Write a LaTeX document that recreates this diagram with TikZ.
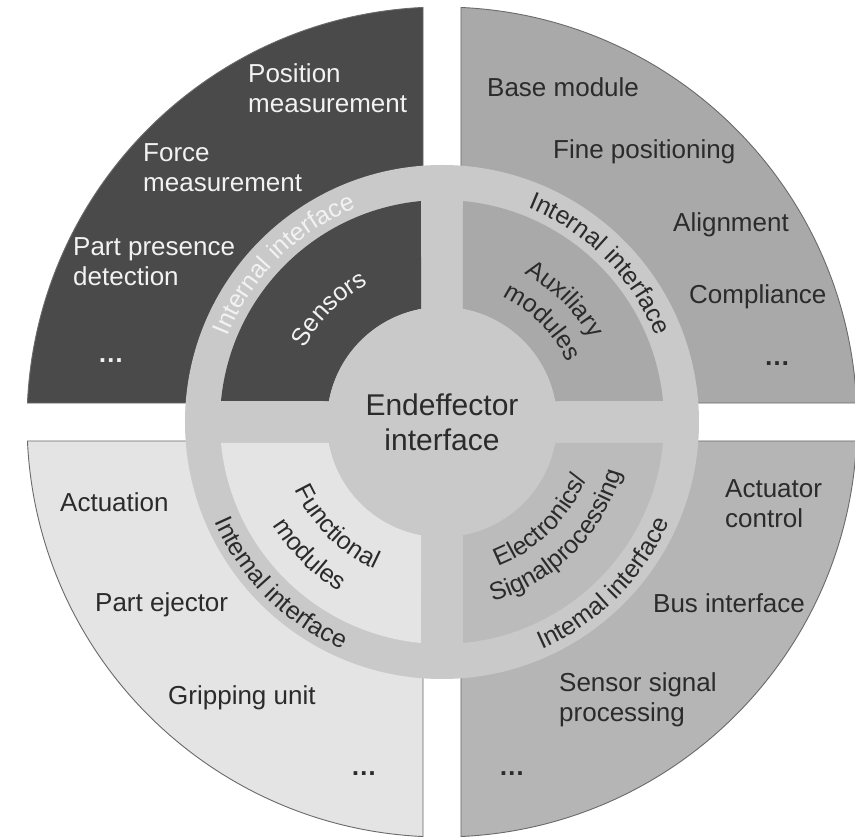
\documentclass[tikz,border=0pt]{standalone}
\usepackage{fontspec}
\setmainfont{Liberation Sans}
\usetikzlibrary{decorations.text}
\definecolor{qdark}{HTML}{4A4A4A}
\definecolor{qmid}{HTML}{A9A9A9}
\definecolor{qlight}{HTML}{E4E4E4}
\definecolor{qbr}{HTML}{B5B5B5}
\definecolor{qelec}{HTML}{BBBBBB}
\definecolor{ringgray}{HTML}{C9C9C9}
\definecolor{edgegray}{HTML}{6A6A6A}
\definecolor{txtdark}{HTML}{2B2B2B}
\definecolor{txtwhite}{HTML}{F2F2F2}
\newcommand\lblfont{\fontsize{26}{30}\selectfont}
\newcommand\arcfont{\fontsize{25}{30}\selectfont}
\newcommand\curvlabel[5]{\path[decorate,decoration={text along path,text align=center,text color=#4,text={|\arcfont|#5}}] (#2:#1) arc[start angle=#2,end angle=#3,radius=#1];}
\begin{document}
\begin{tikzpicture}[x=1pt,y=1pt,
  outerq/.style={draw=edgegray, line width=0.9pt, line join=miter},
  lbl/.style={anchor=base west, inner sep=0pt, align=left, font=\lblfont},
  wlbl/.style={lbl, text=txtwhite},
  dlbl/.style={lbl, text=txtdark},
  dotlbl/.style={anchor=base, inner sep=0pt, font=\lblfont\bfseries},
]
\useasboundingbox (-442,-415) rectangle (413,422);
\fill[white] (-442,-415) rectangle (413,422);
% outer quadrants
\path[outerq, fill=qdark] (-19,19) -- (92.62:415) arc[start angle=92.62,end angle=177.38,radius=415] -- cycle;
\path[outerq, fill=qmid] (19,19) -- (2.62:415) arc[start angle=2.62,end angle=87.38,radius=415] -- cycle;
\path[outerq, fill=qlight] (-19,-19) -- (182.62:415) arc[start angle=182.62,end angle=267.38,radius=415] -- cycle;
\path[outerq, fill=qbr] (19,-19) -- (272.62:415) arc[start angle=272.62,end angle=357.38,radius=415] -- cycle;
% ring (internal interface)
\fill[ringgray] (0,0) circle[radius=257];
% inner quadrants
\fill[qdark] (95.43:222) arc[start angle=95.43,end angle=174.57,radius=222] -- (169.48:115) arc[start angle=169.48,end angle=100.52,radius=115] -- cycle;
\fill[qmid] (5.43:222) arc[start angle=5.43,end angle=84.57,radius=222] -- (79.48:115) arc[start angle=79.48,end angle=10.52,radius=115] -- cycle;
\fill[qlight] (185.43:222) arc[start angle=185.43,end angle=264.57,radius=222] -- (259.48:115) arc[start angle=259.48,end angle=190.52,radius=115] -- cycle;
\fill[qelec] (275.43:222) arc[start angle=275.43,end angle=354.57,radius=222] -- (349.48:115) arc[start angle=349.48,end angle=280.52,radius=115] -- cycle;
% centre
\node[circle, fill=ringgray, minimum size=230pt, inner sep=0pt, align=center, font=\fontsize{30}{35}\selectfont, text=txtdark] (eif) at (0,0) {Endeffector\\interface};
% curved labels
\curvlabel{230.5}{180}{90}{txtwhite}{Internal interface}
\curvlabel{230.5}{90}{0}{txtdark}{Internal interface}
\curvlabel{248.5}{180}{270}{txtdark}{Intemal interface}
\curvlabel{248.5}{270}{360}{txtdark}{Intemal interface}
\curvlabel{156}{180}{90}{txtwhite}{Sensors}
\curvlabel{170}{90}{0}{txtdark}{Auxiliary}
\curvlabel{139}{90}{0}{txtdark}{modules}
\curvlabel{162}{180}{270}{txtdark}{Functional}
\curvlabel{198}{180}{270}{txtdark}{modules}
\curvlabel{155}{270}{360}{txtdark}{Electronics/}
\curvlabel{186.5}{270}{360}{txtdark}{Signalprocessing}
% sensors quadrant (base = last line)
\node[wlbl] (posm) at (-194,309) {Position\\measurement};
\node[wlbl] (forcem) at (-299,230) {Force\\measurement};
\node[wlbl] (ppd) at (-369,136) {Part presence\\detection};
\node[dotlbl, text=txtwhite] (tldots) at (-331,59) {…};
% auxiliary quadrant
\node[dlbl] (basem) at (45,325) {Base module};
\node[dlbl] (finep) at (111,263) {Fine positioning};
\node[dlbl] (alignm) at (231,190) {Alignment};
\node[dlbl] (compl) at (247,118) {Compliance};
\node[dotlbl, text=txtdark] (trdots) at (335,56) {…};
% functional quadrant
\node[dlbl] (actu) at (-382,-90) {Actuation};
\node[dlbl] (eject) at (-347,-190) {Part ejector};
\node[dlbl] (grip) at (-274,-283) {Gripping unit};
\node[dotlbl, text=txtdark] (bldots) at (-78,-354) {…};
% electronics quadrant
\node[dlbl] (actc) at (283,-106) {Actuator\\control};
\node[dlbl] (bus) at (211,-191) {Bus interface};
\node[dlbl] (ssp) at (117,-300) {Sensor signal\\processing};
\node[dotlbl, text=txtdark] (brdots) at (70,-354) {…};
\end{tikzpicture}
\end{document}
